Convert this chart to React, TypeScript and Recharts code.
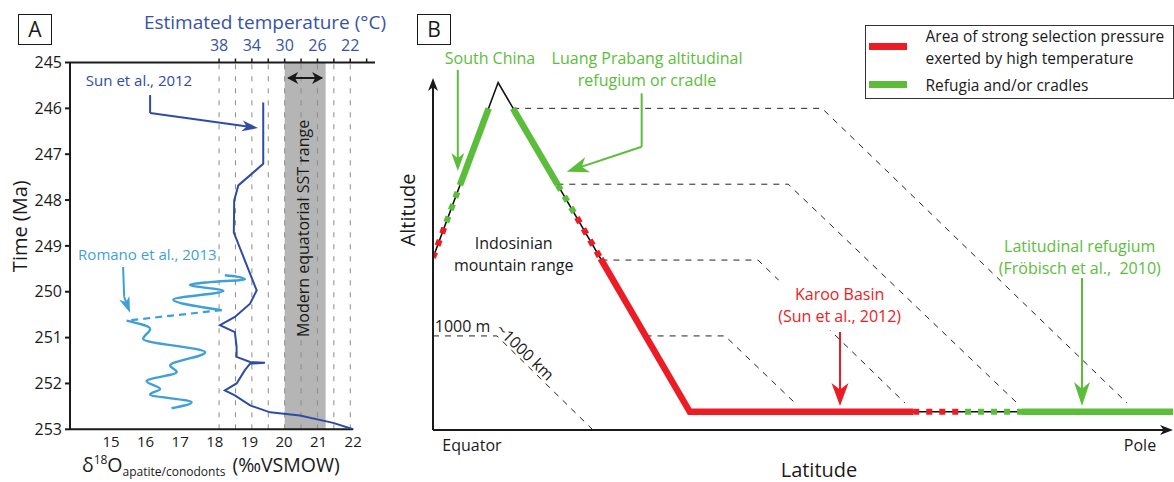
import React from "react";
import {
  ComposedChart,
  Line,
  XAxis,
  YAxis,
  ReferenceLine,
  ReferenceArea,
  ReferenceDot,
  Legend,
} from "recharts";

const RED = "#ec1c24";
const GREEN = "#5cbd3b";
const DARK_BLUE = "#2f4ba6";
const LIGHT_BLUE = "#3f9fd8";
const TEMP_BLUE = "#3753a9";
const INK = "#1a1a1a";

// ---------- Panel A: oxygen isotopes vs time ----------
const ageTicks = [245, 246, 247, 248, 249, 250, 251, 252, 253];
const d18OTicks = [15, 16, 17, 18, 19, 20, 21, 22];
const tempTicks = [38, 36, 34, 32, 30, 28, 26, 24, 22, 20];
const tempLabels = [38, 34, 30, 26, 22];
const tempGuides = [38, 36, 34, 32, 30, 28, 26, 24, 22];
const sstRange = [30, 25];

const sunAge = [245.87, 247.21, 247.68, 248.01, 248.71, 249.32, 249.97, 250.26, 250.55, 250.73, 250.88, 251.2, 251.42, 251.53, 251.55, 251.57, 251.71, 252.0, 252.15, 252.26, 252.48, 252.63, 252.7, 252.86, 253.0];
const sunD18O = [19.4, 19.4, 18.68, 18.56, 18.55, 18.87, 19.21, 19.02, 18.58, 18.15, 18.58, 18.63, 18.63, 19.02, 19.45, 19.02, 18.87, 18.63, 18.29, 18.58, 19.02, 19.6, 20.46, 21.42, 22.0];

const romanoUpperAge = [249.64, 249.67, 249.73, 249.79, 249.85, 249.98, 250.17, 250.4];
const romanoUpperD18O = [18.29, 18.63, 18.87, 17.86, 17.28, 18.25, 16.8, 18.2];
const romanoGapAge = [250.4, 250.63];
const romanoGapD18O = [18.2, 15.45];
const romanoLowerAge = [250.63, 250.81, 251.03, 251.32, 251.61, 251.75, 251.95, 252.12, 252.24, 252.41, 252.54];
const romanoLowerD18O = [15.45, 16.13, 15.93, 17.72, 16.71, 16.9, 16.03, 16.42, 16.13, 17.33, 16.75];

// phosphate palaeothermometer (Pucéat et al. 2010, seawater -1 ‰)
const tempToD18O = (t: number) => (118.7 - t) / 4.22 - 1;
const d18OToTemp = (d: number) => 118.7 - 4.22 * (d + 1);

const ageSeries = (d: number[], t: number[]) => d.map((v, i) => ({ d: v, t: t[i] }));

// ---------- Panel B: altitude / latitude sketch (km from equator, m altitude) ----------
const profileKm = [0, 880, 3470, 10000];
const profileM = [2030, 4340, 0, 0];

const guide1Km = [1083, 5257, 9378];
const guide1M = [4000, 4000, 116];
const guide2Km = [1680, 4800, 7892];
const guide2M = [3000, 3000, 116];
const guide3Km = [2276, 4392, 6378];
const guide3M = [2000, 2000, 116];
const guide4Km = [2873, 3946, 4892];
const guide4M = [1000, 1000, 116];
const guide5Km = [0, 865, 2162];
const guide5M = [1000, 1000, -240];

const hotKm = [2265, 3470, 6490];
const hotM = [2020, 0, 0];
const hotDashKm = [[0, 180], [1945, 2265], [6490, 7190]];
const hotDashM = [[2030, 2500], [2560, 2020], [0, 0]];

const refugeKm = [[366, 752], [1080, 1686], [7960, 10000]];
const refugeM = [[2990, 4000], [4000, 2990], [0, 0]];
const refugeDashKm = [[180, 366], [1686, 1945], [7190, 7960]];
const refugeDashM = [[2500, 2990], [2990, 2560], [0, 0]];

const legendEntries = [
  { lines: ["Area of strong selection pressure", "exerted by high temperature"], color: RED },
  { lines: ["Refugia and/or cradles"], color: GREEN },
];

const kmSeries = (km: number[], m: number[]) => km.map((k, i) => ({ km: k, m: m[i] }));

// ---------- annotation helpers ----------
type LabelOpts = {
  size?: number;
  color?: string;
  anchor?: "start" | "middle" | "end";
  rotate?: number;
  gap?: number;
  box?: [number, number, number, number];
};

function note(key: string, x: number, y: number, lines: string[], o: LabelOpts = {}) {
  const size = o.size ?? 16;
  const gap = o.gap ?? 22;
  return (
    <ReferenceDot
      key={key}
      x={x}
      y={y}
      r={0}
      ifOverflow="visible"
      shape={(p: any) => (
        <g transform={`translate(${p.cx},${p.cy}) rotate(${o.rotate ?? 0})`}>
          {o.box && <rect x={o.box[0]} y={o.box[1]} width={o.box[2]} height={o.box[3]} fill="#fff" />}
          <text textAnchor={o.anchor ?? "middle"} fontSize={size} fill={o.color ?? INK}>
            {lines.map((s, i) => (
              <tspan key={i} x={0} y={(i - (lines.length - 1) / 2) * gap} dy="0.35em">
                {s}
              </tspan>
            ))}
          </text>
        </g>
      )}
    />
  );
}

function head(key: string, x: number, y: number, angle: number, len: number, wid: number, color: string) {
  return (
    <ReferenceDot
      key={key}
      x={x}
      y={y}
      r={0}
      ifOverflow="visible"
      shape={(p: any) => (
        <polygon
          transform={`translate(${p.cx},${p.cy}) rotate(${angle})`}
          points={`0,0 ${-len},${-wid / 2} ${-len * 0.72},0 ${-len},${wid / 2}`}
          fill={color}
        />
      )}
    />
  );
}

function shaft(key: string, a: [number, number], b: [number, number], color: string, width = 2) {
  return (
    <ReferenceLine
      key={key}
      segment={[{ x: a[0], y: a[1] }, { x: b[0], y: b[1] }]}
      stroke={color}
      strokeWidth={width}
      ifOverflow="visible"
    />
  );
}

function PanelTag({ label, left }: { label: string; left: number }) {
  return (
    <div
      style={{
        position: "absolute",
        left,
        top: 14,
        width: 34,
        height: 31,
        boxSizing: "border-box",
        border: `1.5px solid ${INK}`,
        fontSize: 21,
        lineHeight: "28px",
        textAlign: "center",
        color: INK,
      }}
    >
      {label}
    </div>
  );
}

function renderLegend() {
  return (
    <div
      style={{
        position: "relative",
        width: 309,
        height: 74,
        boxSizing: "border-box",
        border: "1.5px solid #333",
        background: "#fff",
        fontSize: 15.5,
        color: INK,
        lineHeight: "22px",
      }}
    >
      {legendEntries.map((e, i) => (
        <React.Fragment key={i}>
          <div
            style={{
              position: "absolute",
              left: 2.5,
              top: i === 0 ? 16.5 : 54.5,
              width: 38,
              height: 7,
              background: e.color,
            }}
          />
          <div style={{ position: "absolute", left: 59.5, top: i === 0 ? -1.5 : 47.5, whiteSpace: "nowrap" }}>
            {e.lines.map((s) => (
              <div key={s}>{s}</div>
            ))}
          </div>
        </React.Fragment>
      ))}
    </div>
  );
}

function PanelA() {
  return (
    <ComposedChart width={400} height={482} margin={{ top: 32.5, right: 25, bottom: 22.7, left: 30 }}>
      <XAxis
        type="number"
        dataKey="d"
        domain={[13.815, 22.63]}
        allowDataOverflow
        ticks={d18OTicks}
        interval={0}
        axisLine={false}
        tickLine={false}
        tickSize={0}
        tickMargin={7}
        height={30}
        tick={{ fill: INK, fontSize: 15 }}
      />
      <XAxis
        xAxisId="top"
        orientation="top"
        type="number"
        dataKey="d"
        domain={[13.815, 22.63]}
        allowDataOverflow
        ticks={tempTicks.map(tempToD18O)}
        interval={0}
        tickFormatter={(v: number) => {
          const t = Math.round(d18OToTemp(v));
          return tempLabels.includes(t) ? String(t) : "";
        }}
        axisLine={{ stroke: INK, strokeWidth: 2 }}
        tickLine={{ stroke: INK, strokeWidth: 1.5 }}
        tickSize={4}
        tickMargin={8}
        height={30}
        tick={{ fill: TEMP_BLUE, fontSize: 16 }}
      />
      <YAxis
        type="number"
        dataKey="t"
        reversed
        domain={[245, 253]}
        allowDataOverflow
        ticks={ageTicks}
        interval={0}
        width={40}
        tickSize={5}
        tickMargin={3}
        axisLine={{ stroke: INK, strokeWidth: 2 }}
        tickLine={{ stroke: INK, strokeWidth: 2 }}
        tick={{ fill: INK, fontSize: 16 }}
      />
      <ReferenceArea x1={tempToD18O(sstRange[0])} x2={tempToD18O(sstRange[1])} y1={245} y2={253} fill="#b5b5b5" fillOpacity={1} stroke="none" />
      {tempGuides.map((t) => (
        <ReferenceLine key={t} x={tempToD18O(t)} stroke="#8a8a8a" strokeWidth={1} strokeDasharray="5 7" />
      ))}
      <ReferenceLine segment={[{ x: 13.815, y: 253 }, { x: 22, y: 253 }]} stroke={INK} strokeWidth={2} />

      <Line data={ageSeries(sunD18O, sunAge)} dataKey="t" type="linear" stroke={DARK_BLUE} strokeWidth={2} dot={false} activeDot={false} isAnimationActive={false} />
      <Line data={ageSeries(romanoUpperD18O, romanoUpperAge)} dataKey="t" type="monotoneY" stroke={LIGHT_BLUE} strokeWidth={2.4} dot={false} activeDot={false} isAnimationActive={false} />
      <Line data={ageSeries(romanoGapD18O, romanoGapAge)} dataKey="t" type="linear" stroke={LIGHT_BLUE} strokeWidth={2.2} strokeDasharray="7 5" dot={false} activeDot={false} isAnimationActive={false} />
      <Line data={ageSeries(romanoLowerD18O, romanoLowerAge)} dataKey="t" type="monotoneY" stroke={LIGHT_BLUE} strokeWidth={2.4} dot={false} activeDot={false} isAnimationActive={false} />

      {shaft("sst", [20.12, 245.34], [21.1, 245.34], INK, 2)}
      {head("sstL", 20.09, 245.34, 180, 11, 12, INK)}
      {head("sstR", 21.13, 245.34, 0, 11, 12, INK)}

      {shaft("sun1", [16.13, 245.71], [16.13, 246.1], DARK_BLUE)}
      {shaft("sun2", [16.13, 246.1], [19.1, 246.41], DARK_BLUE)}
      {head("sunH", 19.25, 246.43, 8, 16, 11, DARK_BLUE)}

      {shaft("rom1", [15.35, 249.46], [15.38, 250.11], LIGHT_BLUE)}
      {shaft("rom2", [15.38, 250.11], [15.5, 250.35], LIGHT_BLUE)}
      {head("romH", 15.55, 250.46, 69, 16, 11, LIGHT_BLUE)}

      {note("temp", 19.45, 244.12, ["Estimated temperature (°C)"], { size: 19, color: TEMP_BLUE })}
      {note("sun", 15.81, 245.4, ["Sun et al., 2012"], { size: 15, color: DARK_BLUE })}
      {note("romano", 16.05, 249.2, ["Romano et al., 2013"], { size: 15, color: LIGHT_BLUE })}
      {note("sstText", 20.57, 248.62, ["Modern equatorial SST range"], { size: 16, rotate: -90 })}
      {note("time", 12.37, 248.57, ["Time (Ma)"], { size: 20, rotate: -90 })}
      <ReferenceDot
        x={14.16}
        y={253.94}
        r={0}
        ifOverflow="visible"
        shape={(p: any) => (
          <text x={p.cx} y={p.cy} fontSize={19.5} fill={INK}>
            δ
            <tspan dy={-8} fontSize={12}>18</tspan>
            <tspan dy={8}>O</tspan>
            <tspan dy={4} fontSize={12}>apatite/conodonts</tspan>
            <tspan dy={-4} dx={7}>(‰VSMOW)</tspan>
          </text>
        )}
      />
    </ComposedChart>
  );
}

function PanelB() {
  const guides = [
    [guide1Km, guide1M],
    [guide2Km, guide2M],
    [guide3Km, guide3M],
    [guide4Km, guide4M],
    [guide5Km, guide5M],
  ];
  return (
    <ComposedChart width={794} height={482} margin={{ top: 78, right: 1, bottom: 52, left: 53 }}>
      <XAxis type="number" dataKey="km" domain={[0, 10000]} allowDataOverflow hide />
      <YAxis type="number" dataKey="m" domain={[-240, 4400]} allowDataOverflow hide />
      <Legend
        layout="horizontal"
        verticalAlign="middle"
        align="center"
        width={309}
        height={74}
        wrapperStyle={{ position: "absolute", left: 485, top: 25, width: 309, height: 74 }}
        content={renderLegend}
      />

      {guides.map(([km, m], i) => (
        <Line key={`g${i}`} data={kmSeries(km, m)} dataKey="m" type="linear" stroke="#222" strokeWidth={1} strokeDasharray="6 6" dot={false} activeDot={false} isAnimationActive={false} />
      ))}
      <Line data={kmSeries(profileKm, profileM)} dataKey="m" type="linear" stroke="#111" strokeWidth={1.6} dot={false} activeDot={false} isAnimationActive={false} />

      {hotDashKm.map((km, i) => (
        <Line key={`hd${i}`} data={kmSeries(km, hotDashM[i])} dataKey="m" type="linear" stroke={RED} strokeWidth={6} strokeDasharray="6 7" dot={false} activeDot={false} isAnimationActive={false} />
      ))}
      {refugeDashKm.map((km, i) => (
        <Line key={`rd${i}`} data={kmSeries(km, refugeDashM[i])} dataKey="m" type="linear" stroke={GREEN} strokeWidth={6} strokeDasharray="6 7" dot={false} activeDot={false} isAnimationActive={false} />
      ))}
      <Line data={kmSeries(hotKm, hotM)} dataKey="m" type="linear" stroke={RED} strokeWidth={6.5} dot={false} activeDot={false} isAnimationActive={false} />
      {refugeKm.map((km, i) => (
        <Line key={`r${i}`} data={kmSeries(km, refugeM[i])} dataKey="m" type="linear" stroke={GREEN} strokeWidth={6.5} dot={false} activeDot={false} isAnimationActive={false} />
      ))}

      {shaft("xAxis", [0, -240], [9900, -240], INK, 2)}
      {head("xHead", 10000, -240, 0, 13, 10, INK)}
      {shaft("yAxis", [0, -240], [0, 4300], INK, 2)}
      {head("yHead", 0, 4400, -90, 13, 10, INK)}

      {note("karoo", 5495, 1397, ["Karoo Basin", "(Sun et al., 2012)"], { color: RED, gap: 22, box: [-63, -25.5, 90, 50] })}

      {shaft("scA", [335, 4506], [335, 3250], GREEN)}
      {head("scH", 335, 3174, 90, 18, 13, GREEN)}
      {shaft("lp1", [2820, 4198], [2820, 3494], GREEN)}
      {shaft("lp2", [2820, 3494], [1900, 3195], GREEN)}
      {head("lpH", 1807, 3165, 161.6, 22, 16, GREEN)}
      {shaft("kA", [5500, 1052], [5500, 200], RED)}
      {head("kH", 5500, 76, 90, 23, 17, RED)}
      {shaft("latA", [8770, 1764], [8770, 200], GREEN)}
      {head("latH", 8770, 76, 90, 24, 16, GREEN)}

      {note("sc", 770, 4664, ["South China"], { color: GREEN })}
      {note("lp", 2892, 4519, ["Luang Prabang altitudinal", "refugium or cradle"], { color: GREEN })}
      {note("indo", 1090, 2080, ["Indosinian", "mountain range"], {})}
      {note("m1000", 399, 1122, ["1000 m"], {})}
      {note("km1000", 1243, 788, ["~1000 km"], { rotate: 44 })}
      {note("lat", 8740, 2033, ["Latitudinal refugium", "(Fröbisch et al.,\u00a0 2010)"], { color: GREEN })}
      {note("alt", -338, 2660, ["Altitude"], { size: 20, rotate: -90 })}
      {note("eq", 527, -438, ["Equator"], {})}
      {note("pole", 9554, -438, ["Pole"], {})}
      {note("latitude", 5216, -767, ["Latitude"], { size: 20 })}
    </ComposedChart>
  );
}

export default function App() {
  return (
    <div
      style={{
        position: "absolute",
        left: 0,
        top: 0,
        width: 1174,
        height: 482,
        background: "#fff",
        overflow: "hidden",
        fontFamily: '"Open Sans", "Noto Sans", sans-serif',
      }}
    >
      <div style={{ position: "absolute", left: 0, top: 0 }}>
        <PanelA />
      </div>
      <div style={{ position: "absolute", left: 380, top: 0 }}>
        <PanelB />
      </div>
      <PanelTag label="A" left={18} />
      <PanelTag label="B" left={417} />
    </div>
  );
}
